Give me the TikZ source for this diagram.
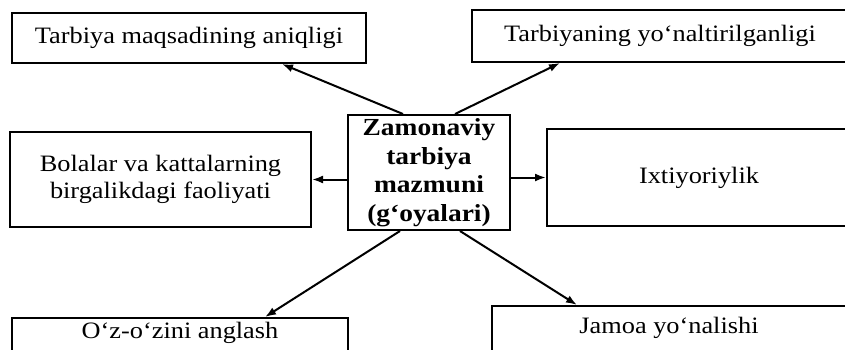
\documentclass[tikz,border=0pt]{standalone}
\usepackage{fontspec}
\setmainfont{Liberation Serif}[FakeStretch=1.12]
\usepackage{tikz}
\usetikzlibrary{positioning,arrows.meta,calc}

\tikzset{
  box/.style={draw, line width=2pt, inner sep=0pt, align=center,
    font=\fontsize{23.5}{27.5}\selectfont},
  link/.style={-{Latex[length=11pt,width=8pt]}, line width=2pt}
}

\begin{document}
\begin{tikzpicture}[x=1pt,y=-1pt]

  \useasboundingbox (0,0) rectangle (845,349);

  \node[box,font=\fontsize{24.5}{28.5}\selectfont\bfseries,
    minimum width=162pt,minimum height=115pt] (zm) at (429,172.5)
    {Zamonaviy\\tarbiya\\mazmuni\\(g‘oyalari)};

  \node[box,minimum width=354pt,minimum height=50pt] (tl) at (189,38)
    {Tarbiya maqsadining aniqligi};
  \node[box,minimum width=376pt,minimum height=52pt] (tr) at (660,36)
    {Tarbiyaning yo‘naltirilganligi};

  \node[box,minimum width=301pt,minimum height=95pt] (ml) [left=35pt of zm,yshift=-7pt]
    {Bolalar va kattalarning\\birgalikdagi faoliyati};
  \node[box,minimum width=304pt,minimum height=97pt] (mr) [right=35pt of zm,yshift=-5pt]
    {Ixtiyoriylik};

  \node[box,anchor=north,minimum width=336pt,text height=20pt,text depth=24pt] (bl)
    at (180,317) {O‘z-o‘zini anglash};
  \node[box,anchor=north,minimum width=354pt,text height=27pt,text depth=24pt] (br)
    at (669,305) {Jamoa yo‘nalishi};

  \draw[link] ([xshift=-26pt]zm.north) -- ([xshift=93pt]tl.south);
  \draw[link] ([xshift=26pt]zm.north) -- ([xshift=-100pt]tr.south);
  \draw[link] (zm.west |- ml.east) -- (ml.east);
  \draw[link] (zm.east |- mr.west) -- (mr.west);
  \draw[link] ([xshift=-29pt]zm.south) -- ([xshift=85pt]bl.north);
  \draw[link] ([xshift=31pt]zm.south) -- ([xshift=-92pt]br.north);

\end{tikzpicture}
\end{document}
